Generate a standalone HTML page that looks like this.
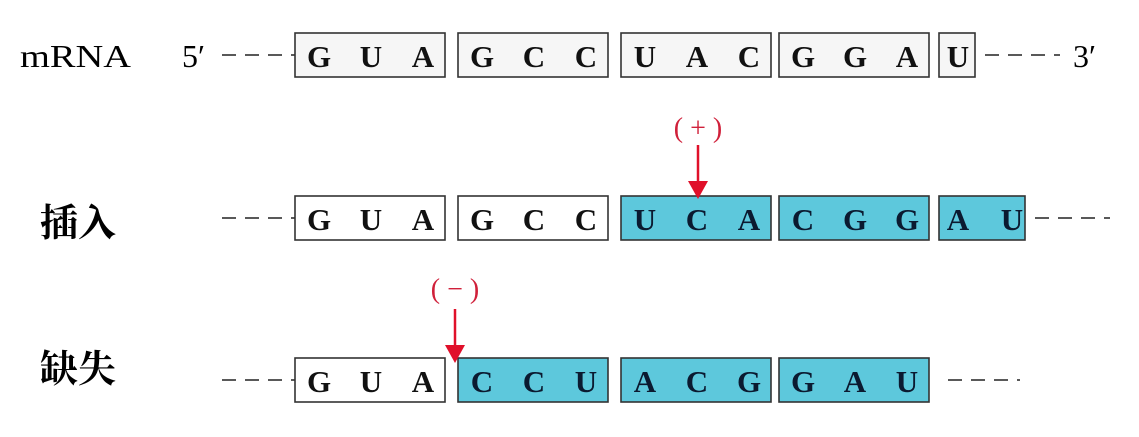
<!DOCTYPE html>
<html><head><meta charset="utf-8"><style>
html,body{margin:0;padding:0;background:#fff;}
svg{display:block;}
text{font-family:"Liberation Serif","Noto Serif CJK SC",serif;}
</style></head><body>
<svg id="fig" width="1139" height="437" viewBox="0 0 1139 437" xmlns="http://www.w3.org/2000/svg">
<text x="20" y="67" font-size="32" textLength="111" lengthAdjust="spacingAndGlyphs">mRNA</text>
<text x="182" y="67" font-size="32">5′</text>
<text x="1073" y="67" font-size="32">3′</text>
<text x="40" y="236" font-size="38" font-weight="bold" font-family="'Noto Serif CJK SC',serif">插入</text>
<text x="40" y="382" font-size="38" font-weight="bold" font-family="'Noto Serif CJK SC',serif">缺失</text>
<g id="rows"></g>
<text x="698" y="137" font-size="28" fill="#d0203a" text-anchor="middle">( + )</text>
<line x1="698" y1="145" x2="698" y2="182" stroke="#e0102a" stroke-width="2.5"/>
<polygon points="688,181 708,181 698,199" fill="#e0102a"/>
<text x="455" y="298" font-size="28" fill="#d0203a" text-anchor="middle">( − )</text>
<line x1="455" y1="309" x2="455" y2="346" stroke="#e0102a" stroke-width="2.5"/>
<polygon points="445,345 465,345 455,363" fill="#e0102a"/>
</svg>
<script>
const rows = [
  {y:33, codons:[["G","U","A"],["G","C","C"],["U","A","C"],["G","G","A"],["U"]], cyanFrom:99, dashEnd:[222,295], tail:[985,1060], name:'original'},
  {y:196, codons:[["G","U","A"],["G","C","C"],["U","C","A"],["C","G","G"],["A","U"]], cyanFrom:2, dashEnd:[222,295], tail:[1035,1110], name:'insertion'},
  {y:358, codons:[["G","U","A"],["C","C","U"],["A","C","G"],["G","A","U"]], cyanFrom:1, dashEnd:[222,295], tail:[948,1020], name:'deletion'}
];
const boxX=[295,458,621,779,939];
const g=document.getElementById('rows');
const NS='http://www.w3.org/2000/svg';
function mk(t,a){const e=document.createElementNS(NS,t);for(const k in a)e.setAttribute(k,a[k]);return e;}
rows.forEach(r=>{
  const d1=mk('line',{x1:r.dashEnd[0],y1:r.y+22,x2:r.dashEnd[1],y2:r.y+22,stroke:'#222','stroke-width':1.5,'stroke-dasharray':'14,9'});
  
  
  g.appendChild(d1);
  const d2=mk('line',{x1:r.tail[0],y1:r.y+22,x2:r.tail[1],y2:r.y+22,stroke:'#222','stroke-width':1.5,'stroke-dasharray':'14,9'});
  
  
  g.appendChild(d2);
  r.codons.forEach((c,i)=>{
    const x=boxX[i];
    const w=c.length===3?150:(r.name==='original'?36:86);
    const cyan=i>=r.cyanFrom;
    const rect=mk('rect',{x:x,y:r.y,width:w,height:44,fill:cyan?'#5dc8dc':(r.name==='original'?'#f6f6f6':'#fff'),stroke:'#333','stroke-width':1.6});
    
    
    g.appendChild(rect);
    c.forEach((b,j)=>{
      const tx = c.length===3 ? x+24+j*52 : x+19+j*54;
      const t=mk('text',{x:tx,y:r.y+34,'font-size':31,'font-weight':'bold','text-anchor':'middle',fill:cyan?'#0b1a30':'#111'});
      t.textContent=b;
      
      
      g.appendChild(t);
    });
  });
});
</script>
</body></html>
